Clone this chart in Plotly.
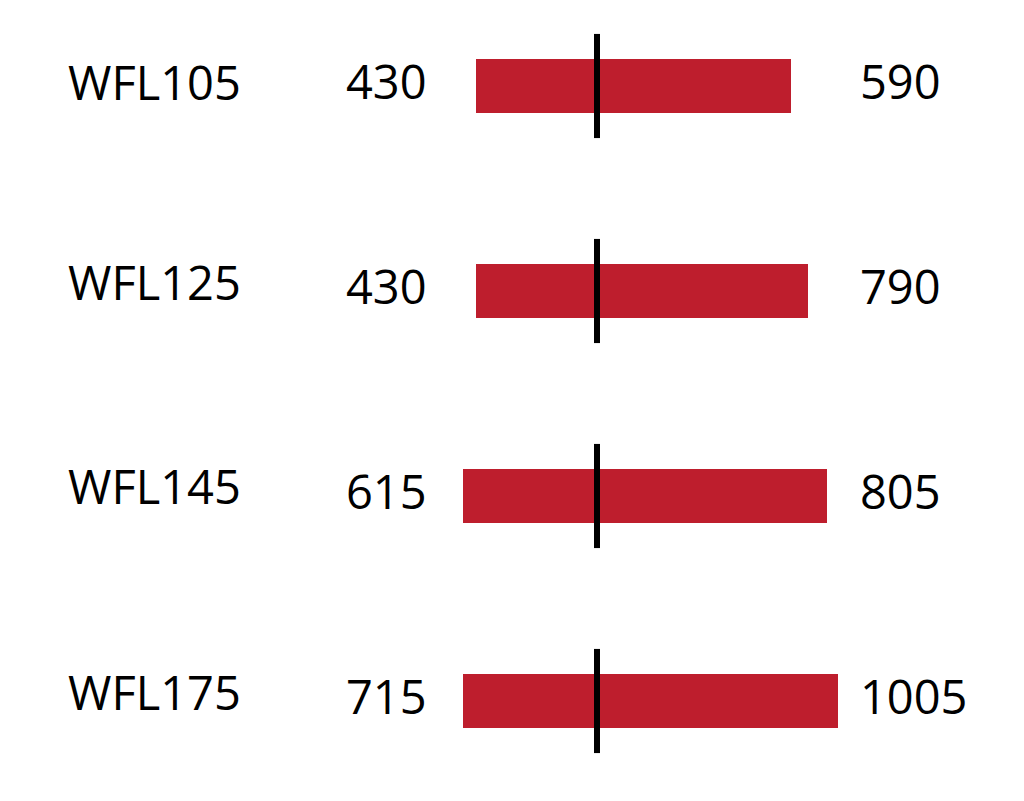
import plotly.graph_objects as go

# ---- data ----
models = ["WFL105", "WFL125", "WFL145", "WFL175"]
min_values = [430, 430, 615, 715]
max_values = [590, 790, 805, 1005]
# bar extents relative to the reference marker (axis units)
bar_low = [-121, -121, -134, -134]
bar_high = [194, 211, 230, 241]
marker_value = 0

RED = "#BE1E2D"
FONT = "Open Sans"
FS = 47

fig = go.Figure()

fig.add_trace(go.Bar(
    y=models,
    x=[h - l for l, h in zip(bar_low, bar_high)],
    base=bar_low,
    orientation="h",
    marker=dict(color=RED, line=dict(width=0)),
    width=0.26,
    hoverinfo="skip",
    showlegend=False,
))

# vertical marker lines per row
for i, m in enumerate(models):
    fig.add_shape(
        type="line",
        xref="x", yref="y",
        x0=marker_value, x1=marker_value,
        y0=i - 0.254, y1=i + 0.254,
        line=dict(color="black", width=6),
        layer="above",
    )

label_shift = [4.5, 9, 10, 9]
ann = []
for i, m in enumerate(models):
    ann.append(dict(x=58 / 1024, xref="paper", y=m, yref="y", text=m,
                    xanchor="left", yanchor="middle", showarrow=False,
                    yshift=label_shift[i],
                    font=dict(family=FONT, size=FS, color="black")))
    ann.append(dict(x=421 / 1024, xref="paper", y=m, yref="y", text=str(min_values[i]),
                    xanchor="right", yanchor="middle", showarrow=False,
                    yshift=5,
                    font=dict(family=FONT, size=FS, color="black")))
    ann.append(dict(x=850 / 1024, xref="paper", y=m, yref="y", text=str(max_values[i]),
                    xanchor="left", yanchor="middle", showarrow=False,
                    yshift=5,
                    font=dict(family=FONT, size=FS, color="black")))

fig.update_layout(
    width=1024, height=801,
    margin=dict(l=0, r=0, t=0, b=0),
    paper_bgcolor="white", plot_bgcolor="white",
    xaxis=dict(range=[-589, 435], visible=False, fixedrange=True),
    yaxis=dict(type="category", range=[(801 - 78) / 205, -78 / 205],
               visible=False, fixedrange=True),
    annotations=ann,
    bargap=0,
)

fig.write_html("out.html", config={"displayModeBar": False})
